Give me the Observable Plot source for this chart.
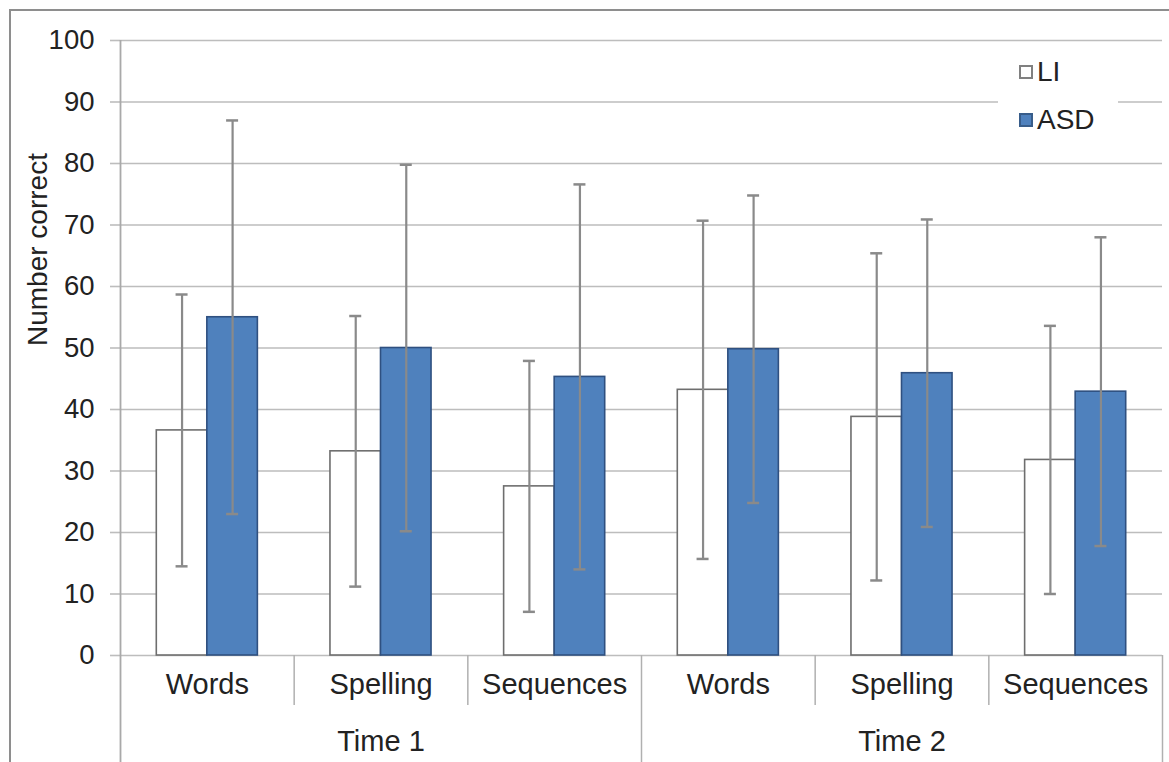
<!DOCTYPE html>
<html>
<head>
<meta charset="utf-8">
<script src="https://cdn.jsdelivr.net/npm/d3@7"></script>
<script src="https://cdn.jsdelivr.net/npm/@observablehq/plot@0.6"></script>
<style>
  html, body { margin: 0; padding: 0; background: #fff; overflow: hidden; }
  #wrap { position: relative; width: 1169px; height: 762px; overflow: hidden; font-family: "Liberation Sans", Arial, sans-serif; }
  #border { position: absolute; left: 9px; top: 9px; width: 1400px; height: 1000px; border-left: 2px solid #8e8e8e; border-top: 2px solid #8e8e8e; pointer-events: none; }
  #chart { position: absolute; left: 0; top: 0; }
  #legend { position: absolute; left: 998px; top: 50px; width: 120px; height: 95px; background: #fff; }
  .item { position: absolute; left: 21px; height: 30px; line-height: 30px; display: flex; align-items: center; font-size: 28px; color: #222; }
  .sw { width: 14px; height: 14px; box-sizing: border-box; border: 2px solid #808080; margin-right: 4px; }
</style>
</head>
<body>
<div id="wrap">
  <div id="chart"></div>
  <div id="border"></div>
  <div id="legend"></div>
</div>
<script>
// ---- data ----
const categories = ["Words", "Spelling", "Sequences"];
const times = ["Time 1", "Time 2"];
const series = ["LI", "ASD"];
const liMean  = [36.6, 33.2, 27.5, 43.2, 38.8, 31.8];
const asdMean = [55.0, 50.0, 45.3, 49.8, 45.9, 42.9];
const liSD    = [22.1, 22.0, 20.4, 27.5, 26.6, 21.8];
const asdSD   = [32.0, 29.8, 31.3, 25.0, 25.0, 25.1];
const yTicks  = [0, 10, 20, 30, 40, 50, 60, 70, 80, 90, 100];

// ---- styles ----
const seriesFill   = {LI: "#ffffff", ASD: "#4f81bd"};
const seriesStroke = {LI: "#6e6e6e", ASD: "#2f5080"};
const GAP = 0.209;   // outer gap of each category, fraction of the category slot
const BAR = 0.291;   // width of one bar, fraction of the category slot

// ---- table built from the arrays ----
const groups = times.flatMap((t, ti) => categories.map((c, ci) => ({time: t, category: c, idx: ti * 3 + ci})));
const rows = groups.flatMap((g, k) => series.map((s, si) => {
  const mean = si ? asdMean[k] : liMean[k];
  const sd = si ? asdSD[k] : liSD[k];
  const x1 = g.idx + GAP + si * BAR;
  return {...g, series: s, mean, lo: mean - sd, hi: mean + sd, x1, x2: x1 + BAR, xc: x1 + BAR / 2};
}));
const boundaries = d3.range(0, groups.length + 1);
const shortSeps = boundaries.filter(b => b % 3 !== 0);
const longSeps = boundaries.filter(b => b % 3 === 0 && b > 0);

const gridColor = "#bdbdbd";
const errColor = "#8a8a8a";

const chart = Plot.plot({
  width: 1169,
  height: 762,
  marginLeft: 120,
  marginRight: 7,
  marginTop: 40,
  marginBottom: 107,
  style: {fontFamily: '"Liberation Sans", Arial, sans-serif', fontSize: "28px", color: "#222", background: "transparent"},
  x: {domain: [0, groups.length], axis: null},
  y: {domain: [0, 100], axis: null},
  marks: [
    Plot.gridY(yTicks, {stroke: gridColor, strokeOpacity: 1, strokeWidth: 1.6}),
    Plot.axisY(yTicks, {tickSize: 10, tickPadding: 16, stroke: gridColor, strokeOpacity: 1, strokeWidth: 1.6, fontSize: 27.5, fill: "#222", label: null}),
    Plot.ruleX([0], {stroke: "#a9a9a9", strokeWidth: 1.8, insetBottom: -110}),
    Plot.ruleX(shortSeps, {x: d => d, y1: 0, stroke: "#b0b0b0", strokeWidth: 1.5, insetBottom: -50}),
    Plot.ruleX(longSeps, {x: d => d, y1: 0, stroke: "#b0b0b0", strokeWidth: 1.5, insetBottom: -110}),
    ...series.map(s => Plot.rect(rows.filter(d => d.series === s), {
      x1: "x1", x2: "x2", y1: 0, y2: "mean",
      fill: seriesFill[s], stroke: seriesStroke[s], strokeWidth: 1.6
    })),
    Plot.ruleX(rows, {x: "xc", y1: "lo", y2: "hi", stroke: errColor, strokeWidth: 2.2}),
    Plot.ruleY(rows, {y: "hi", x1: "xc", x2: "xc", insetLeft: -6, insetRight: -6, stroke: errColor, strokeWidth: 2.5}),
    Plot.ruleY(rows, {y: "lo", x1: "xc", x2: "xc", insetLeft: -6, insetRight: -6, stroke: errColor, strokeWidth: 2.5}),
    Plot.text(groups, {x: d => d.idx + 0.5, text: "category", frameAnchor: "bottom", dy: 38, fontSize: 29, fill: "#222"}),
    Plot.text(times, {x: (d, i) => i * 3 + 1.5, text: d => d, frameAnchor: "bottom", dy: 95, fontSize: 29, fill: "#222"}),
    Plot.text(["Number correct"], {text: d => d, frameAnchor: "left", dx: -82, dy: -2, rotate: -90, fontSize: 28, fill: "#222"})
  ]
});
document.getElementById("chart").appendChild(chart);

// ---- legend ----
const legend = d3.select("#legend");
const legendTops = {LI: 7, ASD: 55};
series.forEach(s => {
  const item = legend.append("div").attr("class", "item").style("top", legendTops[s] + "px");
  item.append("div").attr("class", "sw").style("background", seriesFill[s]).style("border-color", s === "LI" ? "#808080" : "#385d8a");
  item.append("span").text(s);
});
</script>
</body>
</html>
